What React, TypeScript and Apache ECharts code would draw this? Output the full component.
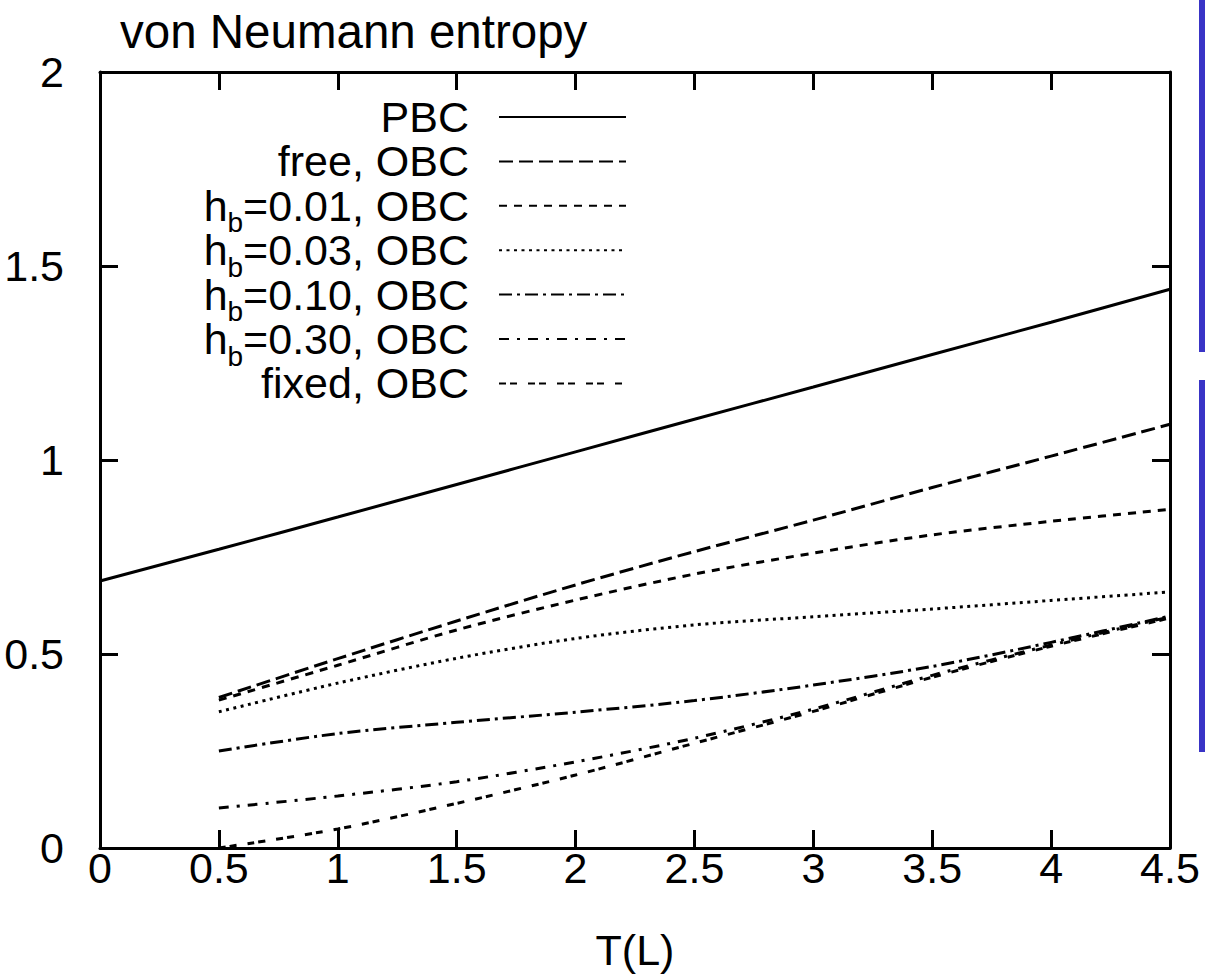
import React, { useEffect, useRef } from "react";
import * as echarts from "echarts";

const titleText = "von Neumann entropy";
const xName = "T(L)";
const xPBC = [0, 0.5, 1, 1.5, 2, 2.5, 3, 3.5, 4, 4.5];
const xOBC = [0.5, 1, 1.5, 2, 2.5, 3, 3.5, 4, 4.5];
const pbc = [0.688, 0.770, 0.853, 0.937, 1.021, 1.105, 1.188, 1.272, 1.355, 1.440];
const freeOBC = [0.388, 0.488, 0.585, 0.678, 0.764, 0.845, 0.929, 1.010, 1.092];
const hb001 = [0.381, 0.471, 0.562, 0.639, 0.706, 0.760, 0.807, 0.842, 0.873];
const hb003 = [0.351, 0.425, 0.489, 0.540, 0.575, 0.596, 0.616, 0.638, 0.660];
const hb010 = [0.250, 0.295, 0.324, 0.350, 0.380, 0.420, 0.468, 0.530, 0.598];
const hb030 = [0.103, 0.134, 0.171, 0.222, 0.283, 0.358, 0.445, 0.523, 0.596];
const fixedOBC = [0.000, 0.049, 0.115, 0.188, 0.270, 0.352, 0.440, 0.520, 0.593];

const seriesNames = [
  "PBC",
  "free, OBC",
  "hb=0.01, OBC",
  "hb=0.03, OBC",
  "hb=0.10, OBC",
  "hb=0.30, OBC",
  "fixed, OBC",
];

const FONT = "'Liberation Sans', Arial, sans-serif";

function pairs(xs: number[], ys: number[]) {
  return xs.map((x, i) => [x, ys[i]]);
}

export default function App() {
  const ref = useRef<HTMLDivElement>(null);
  useEffect(() => {
    document.body.style.margin = "0";
    if (!ref.current) return;
    const chart = echarts.init(ref.current, null, { renderer: "svg" });
    const dashes: (string | number[])[] = [
      "solid",
      [14, 6],
      [8, 7],
      [3, 4.5],
      [13, 5, 3, 5],
      [10, 8, 3, 8],
      [7, 4, 7, 11],
    ];
    const datas = [
      pairs(xPBC, pbc),
      pairs(xOBC, freeOBC),
      pairs(xOBC, hb001),
      pairs(xOBC, hb003),
      pairs(xOBC, hb010),
      pairs(xOBC, hb030),
      pairs(xOBC, fixedOBC),
    ];
    const axisCommon = {
      type: "value" as const,
      axisLine: { show: true, onZero: false, lineStyle: { color: "#000", width: 3 } },
      axisTick: { show: true, inside: true, length: 18, lineStyle: { color: "#000", width: 3 } },
      splitLine: { show: false },
    };
    chart.setOption({
      animation: false,
      backgroundColor: "#fff",
      title: {
        text: titleText,
        left: 120,
        top: 7,
        padding: 0,
        textStyle: { fontFamily: FONT, fontSize: 47.5, fontWeight: "normal", color: "#000" },
      },
      grid: { left: 100, top: 72, width: 1070, height: 776, containLabel: false },
      legend: {
        data: seriesNames,
        orient: "vertical",
        align: "right",
        right: 578,
        top: 95,
        padding: 0,
        itemGap: -8.6,
        itemWidth: 127,
        itemHeight: 14,
        selectedMode: false,
        itemStyle: { opacity: 0 },
        formatter: (name: string) => {
          if (name.startsWith("hb")) return "{n|h}{s|b}{n|" + name.slice(2) + "}";
          return "{s| }{n|" + name + "}";
        },
        textStyle: {
          fontFamily: FONT,
          fontSize: 43,
          color: "#000",
          lineHeight: 44,
          padding: [0, 25, 0, 0],
          rich: {
            n: { fontFamily: FONT, fontSize: 43, lineHeight: 44, color: "#000" },
            s: {
              fontFamily: FONT,
              fontSize: 28,
              lineHeight: 44,
              height: 2,
              color: "#000",
              padding: [34, 0, 0, 0],
            },
          },
        },
      },
      xAxis: [
        {
          ...axisCommon,
          position: "bottom",
          min: 0,
          max: 4.5,
          interval: 0.5,
          name: xName,
          nameLocation: "middle",
          nameGap: 80,
          nameTextStyle: { fontFamily: FONT, fontSize: 43, color: "#000" },
          axisLabel: { fontFamily: FONT, fontSize: 43, color: "#000", margin: -2 },
        },
        {
          ...axisCommon,
          position: "top",
          min: 0,
          max: 4.5,
          interval: 0.5,
          axisLabel: { show: false },
        },
      ],
      yAxis: [
        {
          ...axisCommon,
          position: "left",
          min: 0,
          max: 2,
          interval: 0.5,
          axisLabel: { fontFamily: FONT, fontSize: 43, color: "#000", margin: 36 },
        },
        {
          ...axisCommon,
          position: "right",
          min: 0,
          max: 2,
          interval: 0.5,
          axisLabel: { show: false },
        },
      ],
      series: seriesNames.map((name, i) => ({
        name,
        type: "line",
        data: datas[i],
        xAxisIndex: 0,
        yAxisIndex: 0,
        symbol: "none",
        smooth: 0.3,
        clip: true,
        color: "#000",
        lineStyle: { color: "#000", width: 3, type: dashes[i], cap: "butt" },
      })),
      graphic: [
        { type: "rect", shape: { x: 1199, y: 0, width: 6, height: 352 }, style: { fill: "#3934c6" } },
        { type: "rect", shape: { x: 1199, y: 380, width: 6, height: 372 }, style: { fill: "#3934c6" } },
      ],
    });
    return () => chart.dispose();
  }, []);
  return <div ref={ref} style={{ width: 1205, height: 980 }} />;
}
